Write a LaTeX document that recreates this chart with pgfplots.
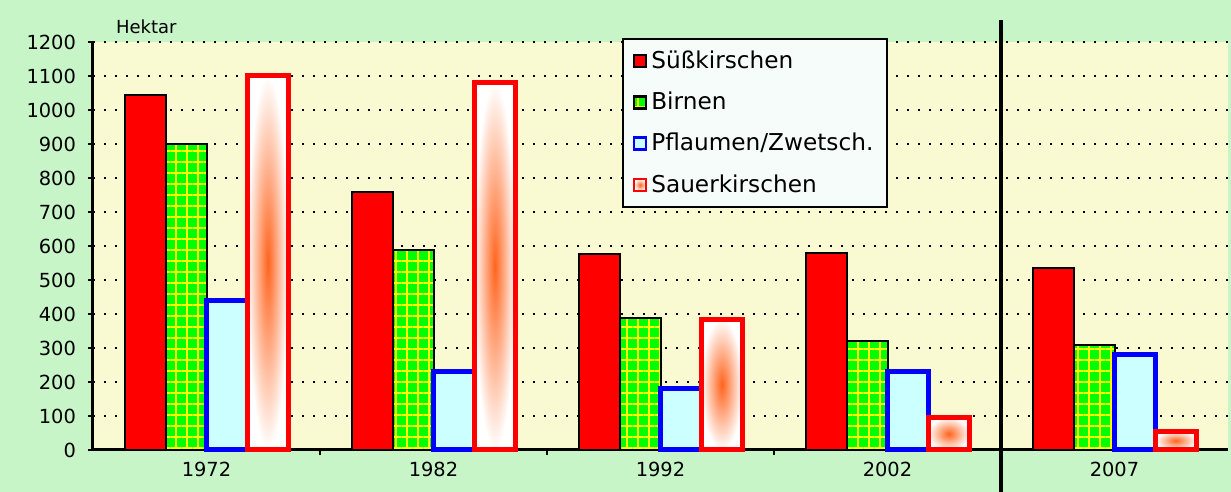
\documentclass[border=0pt]{standalone}
\usepackage{fontspec}
\setmainfont{DejaVu Sans}
\usepackage{pgfplots}
\pgfplotsset{compat=1.18}
\usetikzlibrary{patterns.meta}
\definecolor{bgGreen}{RGB}{200,245,200}
\definecolor{bgYellow}{RGB}{250,250,210}
\definecolor{plum}{RGB}{204,255,255}
\definecolor{sauerIn}{RGB}{255,100,30}
\definecolor{legbg}{RGB}{246,252,250}
\pgfplotsset{sqlegend/.style={legend image code/.code={\draw[##1, line width=1.2pt] (0pt,-3pt) rectangle (6pt,3pt);}},
  sauer/.style={draw=red, line width=2.5pt, inner color=sauerIn, outer color=white, bar shift=0.27, sqlegend}}
\begin{document}
\begin{tikzpicture}
\fill[bgGreen] (-46.5pt,-21pt) rectangle (569pt,225pt);
\begin{axis}[
  at={(0,0)}, anchor=south west,
  scale only axis, width=567.5pt, height=204pt,
  xmin=-0.5, xmax=4.5, ymin=0, ymax=1200,
  axis background/.style={fill=bgYellow},
  ybar, bar width=0.18,
  xtick={0.5,1.5,2.5}, xticklabels={},
  extra x ticks={0,1,2,3,4},
  extra x tick labels={1972,1982,1992,2002,2007},
  extra x tick style={major tick length=0pt},
  ytick={0,100,...,1200},
  /pgf/number format/1000 sep={},
  /pgf/number format/assume math mode=true,
  tick label style={font=\fontsize{9.7}{11}\selectfont},
  xticklabel style={yshift=-2.5pt},
  yticklabel style={xshift=-2.5pt},
  axis x line*=bottom, axis y line*=left,
  axis line style={-, line width=1.5pt},
  tick align=outside, major tick length=2.5pt,
  tick style={black, line width=1.2pt},
  ymajorgrids,
  major grid style={black, line width=0.9pt, dash pattern=on 0.9pt off 4.6pt},
  clip=false,
  legend style={at={(0.466,1.01)}, anchor=north west, fill=legbg, draw=black, line width=1pt,
    font=\fontsize{11.6}{13}\selectfont, row sep=6.3pt, inner xsep=5pt, inner ysep=4pt},
  legend cell align=left,
]
\addplot[fill=red, draw=black, line width=1pt, bar shift=-0.27, sqlegend]
  coordinates {(0,1045)(1,760)(2,575)(3,580)(4,535)};
\addplot[fill=green, draw=black, line width=1pt, bar shift=-0.09, sqlegend,
  postaction={pattern={Hatch[angle=0,distance=5.5pt,line width=0.8pt]}, pattern color=yellow}]
  coordinates {(0,900)(1,587)(2,387)(3,322)(4,310)};
\addplot[fill=plum, draw=blue, line width=2.5pt, bar shift=0.09, sqlegend]
  coordinates {(0,440)(1,230)(2,180)(3,230)(4,280)};
\addplot[sauer] coordinates {(0,1100)};
\addplot[sauer, forget plot] coordinates {(1,1080)};
\addplot[sauer, forget plot] coordinates {(2,385)};
\addplot[sauer, forget plot] coordinates {(3,95)};
\addplot[sauer, forget plot] coordinates {(4,55)};
\legend{Süßkirschen, Birnen, Pflaumen/Zwetsch., Sauerkirschen}
\draw[line width=2.3pt] (axis cs:3.5,-124) -- (axis cs:3.5,1265);
\node[anchor=west, font=\fontsize{9}{10}\selectfont, xshift=8pt, yshift=7.5pt] at (rel axis cs:0,1) {Hektar};
\end{axis}
\pgfresetboundingbox
\path (-46.5pt,-21pt) rectangle (569pt,225pt);
\end{tikzpicture}
\end{document}
